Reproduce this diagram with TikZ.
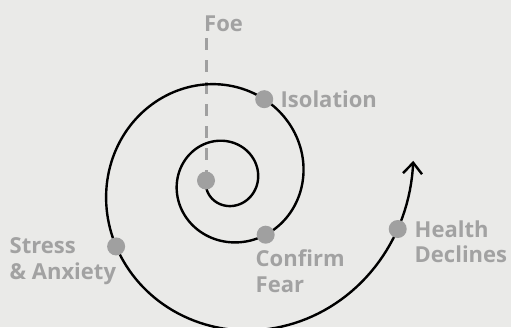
\documentclass[tikz,border=0pt]{standalone}
\usepackage{fontspec}
\setmainfont{Open Sans}
\usetikzlibrary{arrows.meta}
\definecolor{bgc}{RGB}{234,234,232}
\definecolor{dotc}{RGB}{160,160,160}
\definecolor{txtc}{RGB}{162,162,162}
\begin{document}
\begin{tikzpicture}[x=1pt,y=-1pt,
  declare function={sr(\t)=20.3*exp(0.002454*(\t-180)); sx(\t)=226.3+sr(\t)*cos(\t); sy(\t)=180.5-sr(\t)*sin(\t);},
  spiral/.style={line width=2.4pt, black},
  guide/.style={dotc, line width=3pt, dash pattern=on 12pt off 10pt},
  dotmark/.style={circle, fill=dotc, minimum size=18pt, inner sep=0pt},
  lbl/.style={font=\fontsize{22}{26}\selectfont\bfseries, text=txtc, inner sep=0pt, anchor=base west}]
\useasboundingbox (0,0) rectangle (511,327);
\fill[bgc] (0,0) rectangle (511,327);
% dots positions on the spiral
\coordinate (p0) at ({sx(180)},{sy(180)});
\coordinate (pc) at ({sx(666)},{sy(666)});
\coordinate (pi) at ({sx(785)},{sy(785)});
\coordinate (ps) at ({sx(930.9)},{sy(930.9)});
\coordinate (ph) at ({sx(1064.2)},{sy(1064.2)});
\coordinate (foetop) at (206,38);
% dashed guide
\draw[guide] (foetop) -- (p0);
% spiral
\draw[spiral, -{Straight Barb[length=11pt,width=19pt]}] plot[domain=180:1086, samples=400] ({sx(\x)},{sy(\x)});
% dots
\node[dotmark] (d0) at (p0) {};
\node[dotmark] (dc) at (pc) {};
\node[dotmark] (di) at (pi) {};
\node[dotmark] (ds) at (ps) {};
\node[dotmark] (dh) at (ph) {};
% labels
\node[lbl] (foe) at (204,31.5) {Foe};
\node[lbl] (iso) at (280.5,107) {Isolation};
\node[lbl] (str1) at (9.5,253) {Stress};
\node[lbl] (str2) at (9.5,279.5) {\& Anxiety};
\node[lbl] (con1) at (255.5,266) {Confirm};
\node[lbl] (con2) at (255.5,292) {Fear};
\node[lbl] (hea1) at (414.5,237) {Health};
\node[lbl] (hea2) at (414.5,262.5) {Declines};
\end{tikzpicture}
\end{document}
